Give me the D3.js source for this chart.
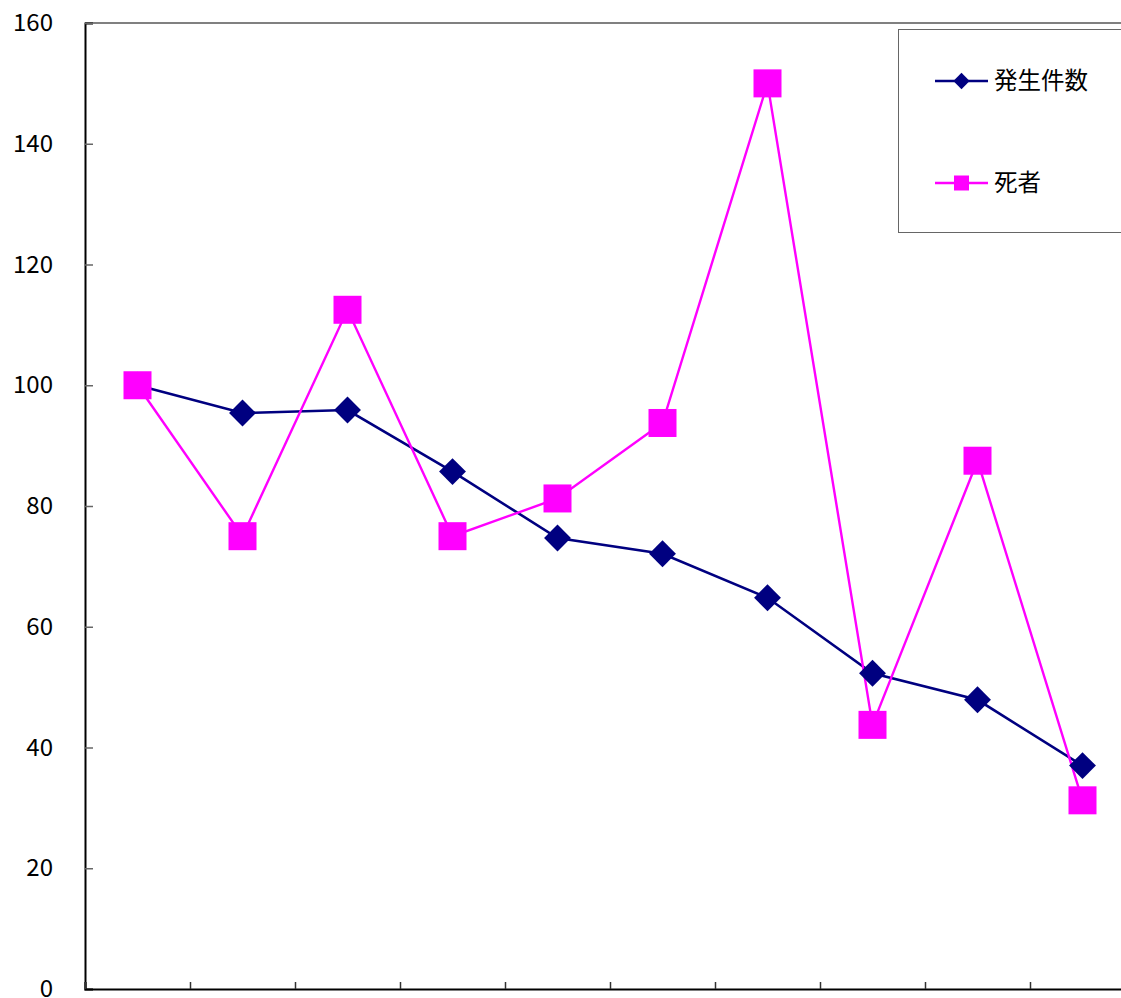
<!DOCTYPE html>
<html>
<head>
<meta charset="utf-8">
<script src="https://cdn.jsdelivr.net/npm/d3@7"></script>
<style>
  html, body { margin: 0; padding: 0; background: #fff; }
  svg { display: block; }
  text { font-family: "Noto Sans CJK JP", "Liberation Sans", sans-serif; }
</style>
</head>
<body>
<svg id="chart" width="1121" height="998"></svg>
<script>
// ---- data ----
const categories = ["1", "2", "3", "4", "5", "6", "7", "8", "9", "10"];
const incidents = [100, 95.4, 95.9, 85.7, 74.7, 72.1, 64.8, 52.3, 47.9, 37.0];
const deaths = [100, 75, 112.5, 75, 81.25, 93.75, 150, 43.75, 87.5, 31.25];
const seriesNames = ["発生件数", "死者"];
const yTicks = [0, 20, 40, 60, 80, 100, 120, 140, 160];

// ---- layout ----
const W = 1121, H = 998;
const mLeft = 85, mRight = 1135, mTop = 23, mBottom = 989;
const svg = d3.select("#chart");

const x = d3.scaleBand().domain(categories).range([mLeft, mRight]).padding(0);
const xEdge = d3.scaleLinear().domain([0, categories.length]).range([mLeft, mRight]);
const y = d3.scaleLinear().domain([0, 160]).range([mBottom, mTop]);

// top border of plot area
svg.append("line").attr("x1", mLeft).attr("x2", W).attr("y1", mTop).attr("y2", mTop)
  .attr("stroke", "#808080").attr("stroke-width", 2);

// y axis
const yAxis = svg.append("g").attr("transform", `translate(${mLeft},0)`)
  .call(d3.axisLeft(y).tickValues(yTicks).tickSize(-8).tickFormat(d3.format("d")).tickPadding(32));
yAxis.select(".domain").attr("stroke", "#000").attr("stroke-width", 2);
yAxis.selectAll(".tick line").attr("stroke", "#666").attr("stroke-width", 1.5);
yAxis.selectAll(".tick text").attr("font-size", 24).attr("fill", "#000")
  .attr("font-family", '"Noto Sans CJK JP", "Liberation Sans", sans-serif');

// x axis
const xAxis = svg.append("g").attr("transform", `translate(0,${mBottom})`)
  .call(d3.axisBottom(xEdge).tickValues(d3.range(0, categories.length + 1)).tickSize(-7).tickFormat(""));
xAxis.select(".domain").attr("stroke", "#000").attr("stroke-width", 2);
xAxis.selectAll(".tick line").attr("stroke", "#333").attr("stroke-width", 1.5);

const cx = c => x(c) + x.bandwidth() / 2;

// series lines
const line = d3.line().x((d, i) => cx(categories[i])).y(d => y(d));
svg.append("path").datum(incidents).attr("d", line)
  .attr("fill", "none").attr("stroke", "#000080").attr("stroke-width", 2.6);
svg.append("path").datum(deaths).attr("d", line)
  .attr("fill", "none").attr("stroke", "#FF00FF").attr("stroke-width", 2.4);

// markers
const dSide = 19, sSide = 28;
svg.append("g").selectAll("rect").data(incidents).join("rect")
  .attr("x", -dSide / 2).attr("y", -dSide / 2).attr("width", dSide).attr("height", dSide)
  .attr("transform", (d, i) => `translate(${cx(categories[i])},${y(d)}) rotate(45)`)
  .attr("fill", "#000080");
svg.append("g").selectAll("rect").data(deaths).join("rect")
  .attr("x", (d, i) => cx(categories[i]) - sSide / 2).attr("y", d => y(d) - sSide / 2)
  .attr("width", sSide).attr("height", sSide)
  .attr("fill", "#FF00FF");

// legend
const lg = svg.append("g");
lg.append("rect").attr("x", 898.5).attr("y", 29.5).attr("width", 240).attr("height", 203)
  .attr("fill", "#fff").attr("stroke", "#666").attr("stroke-width", 1);
const legendRows = [
  { name: seriesNames[0], color: "#000080", shape: "diamond", yy: 81 },
  { name: seriesNames[1], color: "#FF00FF", shape: "square", yy: 183 }
];
legendRows.forEach(r => {
  lg.append("line").attr("x1", 935).attr("x2", 988).attr("y1", r.yy).attr("y2", r.yy)
    .attr("stroke", r.color).attr("stroke-width", 2.5);
  if (r.shape === "diamond") {
    lg.append("rect").attr("x", -5.75).attr("y", -5.75).attr("width", 11.5).attr("height", 11.5)
      .attr("transform", `translate(961.5,${r.yy}) rotate(45)`).attr("fill", r.color);
  } else {
    lg.append("rect").attr("x", 954).attr("y", r.yy - 7.5).attr("width", 15).attr("height", 15)
      .attr("fill", r.color);
  }
  lg.append("text").attr("x", 994).attr("y", r.yy).attr("dy", "0.35em")
    .attr("font-size", 23.5).attr("fill", "#000").text(r.name);
});
</script>
</body>
</html>
